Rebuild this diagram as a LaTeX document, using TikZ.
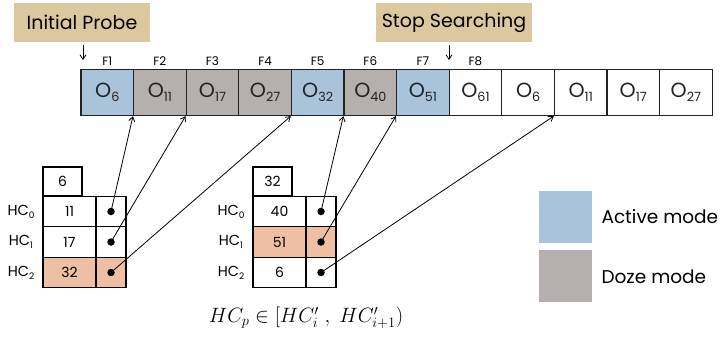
\documentclass[tikz,border=0pt]{standalone}
\usepackage{fontspec}
\setmainfont{Poppins}
\usetikzlibrary{arrows.meta}
\definecolor{activeblue}{HTML}{A9C3DB}
\definecolor{dozegrey}{HTML}{B5AFAE}
\definecolor{hitsalmon}{HTML}{EEBFA3}
\definecolor{tagtan}{HTML}{DCC89E}
\definecolor{ink}{HTML}{222222}
\newcommand{\sub}[1]{\raisebox{-0.35ex}{\scalebox{0.62}{#1}}}
\tikzset{
  slot/.style={draw=ink, line width=1.3pt, minimum width=52.6pt, minimum height=46pt,
    inner sep=0pt, font=\fontsize{20.5}{20.5}\selectfont, text=ink},
  cell/.style={draw=black, line width=1.3pt, minimum height=30.5pt, inner sep=0pt,
    font=\fontsize{14}{14}\selectfont},
  keycell/.style={cell, minimum width=53pt},
  ptrcell/.style={cell, minimum width=30pt},
  headcell/.style={cell, minimum width=39pt, minimum height=29pt},
  hclabel/.style={font=\fontsize{14.5}{14.5}\selectfont},
  tag/.style={fill=tagtan, minimum width=136pt, minimum height=39pt, inner sep=0pt,
    font=\fontsize{19}{19}\selectfont},
  flabel/.style={font=\fontsize{12}{12}\selectfont},
  dot/.style={circle, fill=black, minimum size=7.5pt, inner sep=0pt},
  link/.style={-{Straight Barb[length=4.5pt,width=6pt]}, line width=0.8pt},
  legendbox/.style={minimum width=53pt, minimum height=52pt, inner sep=0pt},
  legendtext/.style={anchor=west, font=\fontsize{18.5}{18.5}\selectfont}
}
\begin{document}
\begin{tikzpicture}[x=1pt,y=-1pt]
\useasboundingbox (0,0) rectangle (721,351);

% frame slots of the broadcast cycle
\foreach \i/\lab/\col in {1/O\sub{6}/activeblue, 2/O\sub{11}/dozegrey, 3/O\sub{17}/dozegrey,
    4/O\sub{27}/dozegrey, 5/O\sub{32}/activeblue, 6/O\sub{40}/dozegrey, 7/O\sub{51}/activeblue,
    8/O\sub{61}/white, 9/O\sub{6}/white, 10/O\sub{11}/white, 11/O\sub{17}/white, 12/O\sub{27}/white}
  \node[slot, fill=\col] (s\i) at ({81+52.6*(\i-0.5)},92.5) {\lab};

% frame numbers above the first slots
\foreach \i in {1,...,8}
  \node[flabel] (f\i) at ({81+52.6*(\i-0.5)},61.5) {F\i};

% tags with their pointers
\node[tag] (probe) at (82,22.5) {Initial Probe};
\node[tag, minimum width=156pt] (stop) at (454,22.5) {Stop Searching};
\coordinate (probetip) at (83,60);
\coordinate (stoptip) at (449,60);
\draw[link] (83,45) -- (probetip);
\draw[link] (449,45) -- (stoptip);

% left index table
\node[headcell] (ha) at (62.5,181.5) {6};
\node[keycell] (ka0) at (69.5,211.5) {11};
\node[ptrcell] (pa0) at (111,211.5) {};
\node[keycell] (ka1) at (69.5,242) {17};
\node[ptrcell] (pa1) at (111,242) {};
\node[keycell, fill=hitsalmon] (ka2) at (69.5,272.5) {32};
\node[ptrcell, fill=hitsalmon] (pa2) at (111,272.5) {};
\node[hclabel] (la0) at (21,211.5) {HC\sub{0}};
\node[hclabel] (la1) at (21,242) {HC\sub{1}};
\node[hclabel] (la2) at (21,272.5) {HC\sub{2}};
\node[dot] (da0) at (pa0) {};
\node[dot] (da1) at (pa1) {};
\node[dot] (da2) at (pa2) {};

% right index table
\node[headcell] (hb) at (272.5,181.5) {32};
\node[keycell] (kb0) at (279.5,211.5) {40};
\node[ptrcell] (pb0) at (321,211.5) {};
\node[keycell, fill=hitsalmon] (kb1) at (279.5,242) {51};
\node[ptrcell, fill=hitsalmon] (pb1) at (321,242) {};
\node[keycell] (kb2) at (279.5,272.5) {6};
\node[ptrcell] (pb2) at (321,272.5) {};
\node[hclabel] (lb0) at (231,211.5) {HC\sub{0}};
\node[hclabel] (lb1) at (231,242) {HC\sub{1}};
\node[hclabel] (lb2) at (231,272.5) {HC\sub{2}};
\node[dot] (db0) at (pb0) {};
\node[dot] (db1) at (pb1) {};
\node[dot] (db2) at (pb2) {};

% pointers into the cycle
\draw[link] (da0.center) -- (s2.south west);
\draw[link] (da1.center) -- (s3.south west);
\draw[link] (da2.center) -- (s5.south west);
\draw[link] (db0.center) -- (s6.south west);
\draw[link] (db1.center) -- (s7.south west);
\draw[link] (db2.center) -- (s10.south west);

% legend
\node[legendbox, fill=activeblue] (lga) at (565.5,216.5) {};
\node[legendbox, fill=dozegrey] (lgd) at (565.5,276) {};
\node[legendtext] (lgat) at (598,217) {Active mode};
\node[legendtext] (lgdt) at (598,277) {Doze mode};

% search condition
\node[font=\fontsize{20.5}{20.5}\selectfont] (cond) at (306,318)
  {$HC_p \in [HC'_i \;,\; HC'_{i+1})$};
\end{tikzpicture}
\end{document}
